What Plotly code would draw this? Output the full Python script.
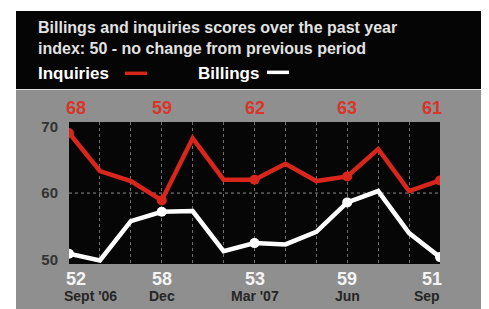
import plotly.graph_objects as go

months = ["Sept '06", "Oct", "Nov", "Dec", "Jan", "Feb", "Mar '07",
          "Apr", "May", "Jun", "Jul", "Aug", "Sep"]
inquiries = [69.0, 63.3, 61.8, 58.9, 68.2, 62.0, 62.0, 64.4, 61.8, 62.5, 66.6, 60.3, 61.9]
billings = [50.9, 49.9, 55.8, 57.2, 57.3, 51.3, 52.5, 52.3, 54.2, 58.6, 60.3, 54.0, 50.4]

label_months = ["Sept '06", "Dec", "Mar '07", "Jun", "Sep"]
month_text = ["Sept '06", "Dec", "Mar '07", "Jun", "Sep"]
inquiry_labels = [68, 59, 62, 63, 61]
billing_labels = [52, 58, 53, 59, 51]
y_ticks = [50, 60, 70]
title_lines = ["Billings and inquiries scores over the past year",
               "index: 50 - no change from previous period"]

# page offset (browser body margin)
OX, OY = 8, 8
W, H = 489 - OX, 309 - OY
RED = "#d9261c"
FONT = "Liberation Sans, Arial, sans-serif"


def py(p):
    return 1 - (p - OY) / H


def px(p):
    return (p - OX) / W


fig = go.Figure()

marker_idx = [months.index(m) for m in label_months]

fig.add_trace(go.Scatter(x=months, y=inquiries, mode="lines",
                         line=dict(color=RED, width=4.5), hoverinfo="skip"))
fig.add_trace(go.Scatter(x=label_months, y=[inquiries[i] for i in marker_idx], mode="markers",
                         marker=dict(color=RED, size=10), hoverinfo="skip"))
fig.add_trace(go.Scatter(x=months, y=billings, mode="lines",
                         line=dict(color="white", width=4.5), hoverinfo="skip"))
fig.add_trace(go.Scatter(x=label_months, y=[billings[i] for i in marker_idx], mode="markers",
                         marker=dict(color="white", size=10), hoverinfo="skip"))

shapes = [
    dict(type="rect", xref="paper", yref="paper", x0=px(16), x1=px(483), y0=py(87), y1=py(7),
         fillcolor="#050505", line=dict(width=0), layer="below"),
    dict(type="rect", xref="paper", yref="paper", x0=px(16), x1=px(483), y0=-0.05, y1=py(88),
         fillcolor="#8f8f8f", line=dict(width=0), layer="below"),
    dict(type="rect", xref="x domain", yref="y domain", x0=0, x1=1, y0=0, y1=1,
         fillcolor="#060606", line=dict(width=0), layer="below"),
    dict(type="line", xref="x domain", yref="y", x0=0, x1=1, y0=60, y1=60,
         line=dict(color="#8a8a8a", width=1, dash="dot"), layer="below"),
    # legend swatches
    dict(type="line", xref="paper", yref="paper", x0=px(125), x1=px(147), y0=py(71), y1=py(71),
         line=dict(color=RED, width=3.5)),
    dict(type="line", xref="paper", yref="paper", x0=px(267), x1=px(289), y0=py(70), y1=py(70),
         line=dict(color="white", width=3.5)),
]

ann = [
    dict(text="<br>".join(title_lines), xref="paper", yref="paper", x=px(36), y=py(35),
         xanchor="left", yanchor="middle", showarrow=False, align="left",
         font=dict(family=FONT, size=16, color="#e2e2e2", weight="bold")),
    dict(text="Inquiries", xref="paper", yref="paper", x=px(36), y=py(71), xanchor="left",
         yanchor="middle", showarrow=False,
         font=dict(family=FONT, size=17, color="white", weight="bold")),
    dict(text="Billings", xref="paper", yref="paper", x=px(196), y=py(71), xanchor="left",
         yanchor="middle", showarrow=False,
         font=dict(family=FONT, size=17, color="white", weight="bold")),
]

n = len(label_months)
for k, m in enumerate(label_months):
    if k == 0:
        xa, xs = "left", -5
    elif k == n - 1:
        xa, xs = "right", 4
    else:
        xa, xs = "center", 0
    ann.append(dict(text=str(inquiry_labels[k]), x=m, xref="x", yref="paper", y=py(107),
                    xanchor=xa, xshift=xs, yanchor="middle", showarrow=False,
                    font=dict(family=FONT, size=18, color="#d8352b", weight="bold")))
    ann.append(dict(text=str(billing_labels[k]), x=m, xref="x", yref="paper", y=py(282),
                    xanchor=xa, xshift=xs, yanchor="middle", showarrow=False,
                    font=dict(family=FONT, size=18, color="#f4f4f4", weight="bold")))
    ann.append(dict(text=month_text[k], x=m, xref="x", yref="paper", y=py(300),
                    xanchor=xa, xshift=(xs - 2 if k in (0, n - 1) else 0),
                    yanchor="middle", showarrow=False,
                    font=dict(family=FONT, size=14, color="#262626", weight="bold")))

fig.update_layout(
    width=W, height=H,
    margin=dict(l=0, r=0, t=0, b=0, pad=0),
    paper_bgcolor="white",
    plot_bgcolor="rgba(0,0,0,0)",
    showlegend=False,
    shapes=shapes,
    annotations=ann,
    xaxis=dict(type="category", categoryorder="array", categoryarray=months,
               domain=[px(69), px(440)], range=[0, len(months) - 1],
               showticklabels=False, ticks="", zeroline=False, showline=False,
               showgrid=True, gridcolor="#6e6e6e", gridwidth=1, griddash="dot"),
    yaxis=dict(domain=[py(267), py(121)], range=[49.35, 70.65],
               tickvals=y_ticks, showgrid=False, zeroline=False, showline=False,
               ticks="", ticklabelstandoff=10,
               tickfont=dict(family=FONT, size=15, color="#333333", weight="bold")),
)

fig.write_html("out.html")
